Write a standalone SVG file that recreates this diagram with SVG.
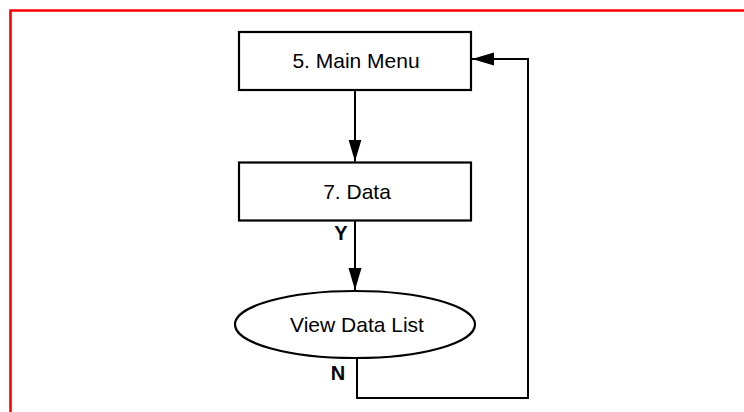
<svg xmlns="http://www.w3.org/2000/svg" width="744" height="412" viewBox="0 0 744 412">
<defs>
<style>
.node{fill:#fff;stroke:#000;stroke-width:2.2}
.lbl{font-family:"Liberation Sans",Arial,sans-serif;font-size:21px;fill:#000;text-anchor:middle}
.yn{font-family:"Liberation Sans",Arial,sans-serif;font-size:20px;font-weight:bold;fill:#000;text-anchor:middle}
.conn{fill:none;stroke:#000;stroke-width:2}
</style>
<marker id="ah" markerUnits="userSpaceOnUse" markerWidth="24" markerHeight="14" refX="22" refY="6.5" orient="auto">
<path d="M0,0 L22,6.5 L0,13 Z" fill="#000"/>
</marker>
</defs>
<rect width="744" height="412" fill="#fff"/>
<path d="M10.5,412 V10.5 H744" fill="none" stroke="#ff0000" stroke-width="2.6"/>
<g id="connectors">
<path class="conn" d="M355,91 V161.5" marker-end="url(#ah)"/>
<path class="conn" d="M355,221 V290" marker-end="url(#ah)"/>
<path class="conn" d="M357,358 V398 H528 V59 H472" marker-end="url(#ah)"/>
<text class="yn" x="341" y="240">Y</text>
<text class="yn" x="338" y="380">N</text>
</g>
<g id="main-menu">
<rect class="node" x="239" y="32" width="232" height="58"/>
<text class="lbl" x="356" y="68">5. Main Menu</text>
</g>
<g id="data">
<rect class="node" x="239" y="162.5" width="232" height="58"/>
<text class="lbl" x="357" y="199">7. Data</text>
</g>
<g id="view-data-list">
<ellipse class="node" cx="355" cy="324.5" rx="120" ry="33.5"/>
<text class="lbl" x="357" y="331.5">View Data List</text>
</g>
</svg>
